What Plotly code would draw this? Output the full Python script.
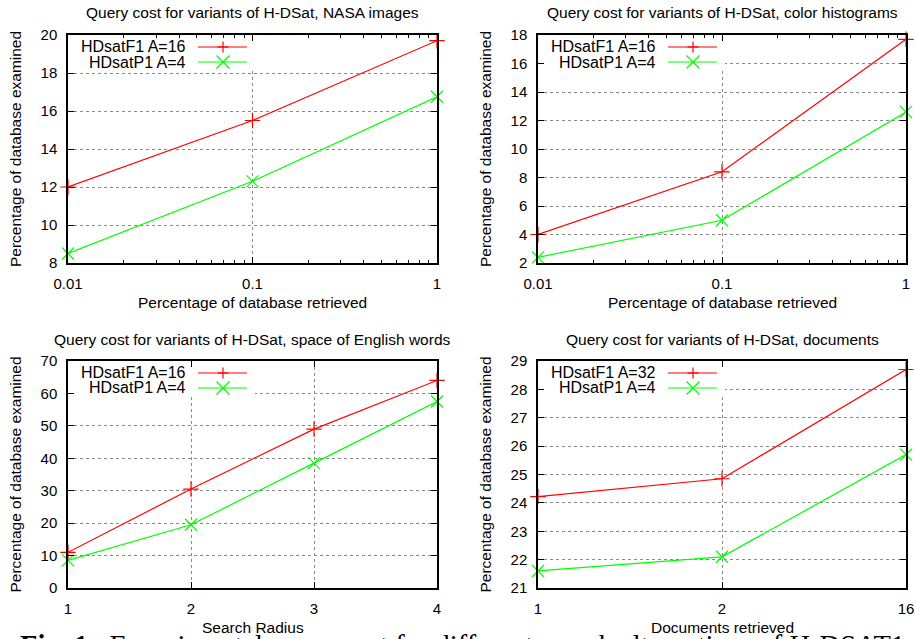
import plotly.graph_objects as go

W, H = 916, 639

# ---------------- data ----------------
nasa_x = [0.01, 0.1, 1]
nasa_f1 = [12.0, 15.5, 19.7]
nasa_p1 = [8.5, 12.3, 16.75]

hist_x = [0.01, 0.1, 1]
hist_f1 = [4.0, 8.4, 17.7]
hist_p1 = [2.4, 5.0, 12.6]

words_x = [1, 2, 3, 4]
words_f1 = [11.0, 30.5, 49.0, 64.0]
words_p1 = [8.5, 19.5, 38.5, 57.5]

docs_x = ["1", "2", "16"]
docs_f1 = [24.22, 24.85, 28.7]
docs_p1 = [21.6, 22.1, 25.7]

titles = [
    "Query cost for variants of H-DSat, NASA images",
    "Query cost for variants of H-DSat, color histograms",
    "Query cost for variants of H-DSat, space of English words",
    "Query cost for variants of H-DSat, documents",
]
xtitles = ["Percentage of database retrieved", "Percentage of database retrieved",
           "Search Radius", "Documents retrieved"]
ytitle = "Percentage of database examined"
legend_f1 = ["HDsatF1 A=16", "HDsatF1 A=16", "HDsatF1 A=16", "HDsatF1 A=32"]
legend_p1 = ["HDsatP1 A=4", "HDsatP1 A=4", "HDsatP1 A=4", "HDsatP1 A=4"]
caption = "<b>Fig. 1.</b>  Experimental query cost for different search alternatives of H-DSAT1"

RED = "#ff0000"
GREEN = "#00ff00"
FONT = "Liberation Sans, Arial, sans-serif"

# plot area pixel boxes (left, top, right, bottom)
boxes = [(68, 35, 437, 263), (538, 35, 906, 263), (68, 361, 437, 588), (538, 361, 906, 588)]
xtypes = ["log", "log", "linear", "category"]
xranges = [[-2, 0], [-2, 0], [1, 4], [0, 2]]
yranges = [[8, 20], [2, 18], [0, 70], [21, 29]]
ydticks = [2, 2, 10, 1]


def px2x(p):
    return p / W


def px2y(p):
    return (H - p) / H


def xdata(i, frac):
    lo, hi = xranges[i]
    v = lo + frac * (hi - lo)
    return 10 ** v if xtypes[i] == "log" else v


def ydata(i, frac):
    lo, hi = yranges[i]
    return lo + frac * (hi - lo)


fig = go.Figure()

series = [
    (nasa_x, nasa_f1, nasa_p1),
    (hist_x, hist_f1, hist_p1),
    (words_x, words_f1, words_p1),
    (docs_x, docs_f1, docs_p1),
]

for i, (xs, f1, p1) in enumerate(series):
    xa = "x" if i == 0 else f"x{i+1}"
    ya = "y" if i == 0 else f"y{i+1}"
    fig.add_trace(go.Scatter(x=xs, y=f1, xaxis=xa, yaxis=ya, mode="lines+markers",
                             line=dict(color=RED, width=1.2),
                             marker=dict(symbol="cross-thin-open", size=11,
                                         line=dict(color=RED, width=1.2)),
                             cliponaxis=False, showlegend=False))
    fig.add_trace(go.Scatter(x=xs, y=p1, xaxis=xa, yaxis=ya, mode="lines+markers",
                             line=dict(color=GREEN, width=1.2),
                             marker=dict(symbol="x-thin-open", size=12,
                                         line=dict(color=GREEN, width=1.2)),
                             cliponaxis=False, showlegend=False))

axis_common = dict(
    showline=True, linecolor="black", linewidth=1.5, mirror="ticks",
    ticks="inside", ticklen=6, tickcolor="black", tickwidth=1,
    showgrid=True, gridcolor="#8a8a8a", griddash="dot", gridwidth=1,
    zeroline=False, tickfont=dict(family=FONT, size=15, color="black"),
    fixedrange=True, automargin=False,
)

layout = dict(width=W, height=H, margin=dict(l=0, r=0, t=0, b=0, pad=0),
              paper_bgcolor="white", plot_bgcolor="white", showlegend=False,
              font=dict(family=FONT, color="black"))

for i, (l, t, r, b) in enumerate(boxes):
    xk = "xaxis" if i == 0 else f"xaxis{i+1}"
    yk = "yaxis" if i == 0 else f"yaxis{i+1}"
    ya = "y" if i == 0 else f"y{i+1}"
    xa = "x" if i == 0 else f"x{i+1}"
    xd = dict(axis_common, domain=[px2x(l), px2x(r)], anchor=ya, ticklabelstandoff=6,
              type=xtypes[i], range=xranges[i])
    if xtypes[i] == "log":
        xd.update(tickvals=[0.01, 0.1, 1], ticktext=["0.01", "0.1", "1"],
                  minor=dict(ticks="inside", ticklen=3, tickcolor="black", showgrid=False,
                             tickvals=[v * m for m in (0.01, 0.1) for v in range(2, 10)]))
    elif xtypes[i] == "linear":
        xd.update(dtick=1)
    else:
        xd.update(categoryorder="array", categoryarray=docs_x)
    yd = dict(axis_common, domain=[px2y(b), px2y(t)], anchor=xa, range=yranges[i],
              dtick=ydticks[i], ticklabelstandoff=6)
    layout[xk] = xd
    layout[yk] = yd

fig.update_layout(**layout)

# caption first (partly cut by the bottom edge, as in the source page)
annotations = [dict(text=caption, x=px2x(18), y=px2y(628), xref="paper", yref="paper",
                    xanchor="left", yanchor="top", showarrow=False,
                    font=dict(family="Liberation Serif, DejaVu Serif, serif", size=28.5, color="black"))]
shapes = []
for i, (l, t, r, b) in enumerate(boxes):
    xa = "x" if i == 0 else f"x{i+1}"
    ya = "y" if i == 0 else f"y{i+1}"
    cx = (l + r) / 2
    cy = (t + b) / 2
    annotations.append(dict(text=titles[i], x=px2x(cx), y=px2y(t - 22), xref="paper", yref="paper",
                            xanchor="center", yanchor="middle", showarrow=False,
                            font=dict(family=FONT, size=15.5, color="black")))
    annotations.append(dict(text=xtitles[i], x=px2x(cx), y=px2y(b + 39), xref="paper", yref="paper",
                            xanchor="center", yanchor="middle", showarrow=False,
                            font=dict(family=FONT, size=15.5, color="black")))
    annotations.append(dict(text=ytitle, x=px2x(l - 53), y=px2y(cy), xref="paper", yref="paper",
                            xanchor="center", yanchor="middle", showarrow=False, textangle=-90,
                            font=dict(family=FONT, size=15.5, color="black")))
    pw, ph = r - l, b - t
    # key background (hides the grid behind the key)
    shapes.append(dict(type="rect", xref=xa, yref=ya,
                       x0=xdata(i, 3 / pw), x1=xdata(i, 187 / pw),
                       y0=ydata(i, 1 - 35 / ph), y1=ydata(i, 1 - 2 / ph),
                       fillcolor="white", line=dict(width=0), layer="between"))
    dxr = f"{xa} domain"
    dyr = f"{ya} domain"
    rows = [(legend_f1[i], RED, 12), (legend_p1[i], GREEN, 27)]
    for k, (txt, col, off) in enumerate(rows):
        yy = 1 - off / ph
        annotations.append(dict(text=txt, x=120 / pw, y=yy, xref=dxr, yref=dyr,
                                xanchor="right", yanchor="middle", showarrow=False,
                                font=dict(family=FONT, size=16, color="black")))
        shapes.append(dict(type="line", xref=dxr, yref=dyr, x0=130 / pw, x1=179 / pw,
                           y0=yy, y1=yy, line=dict(color=col, width=1.2), layer="above"))
        mx = 155 / pw
        if k == 0:
            s = 5.5
            shapes.append(dict(type="line", xref=dxr, yref=dyr, x0=mx - s / pw, x1=mx + s / pw,
                               y0=yy, y1=yy, line=dict(color=col, width=1.2), layer="above"))
            shapes.append(dict(type="line", xref=dxr, yref=dyr, x0=mx, x1=mx,
                               y0=yy - s / ph, y1=yy + s / ph, line=dict(color=col, width=1.2),
                               layer="above"))
        else:
            s = 6.5
            shapes.append(dict(type="line", xref=dxr, yref=dyr, x0=mx - s / pw, x1=mx + s / pw,
                               y0=yy - s / ph, y1=yy + s / ph, line=dict(color=col, width=1.2),
                               layer="above"))
            shapes.append(dict(type="line", xref=dxr, yref=dyr, x0=mx - s / pw, x1=mx + s / pw,
                               y0=yy + s / ph, y1=yy - s / ph, line=dict(color=col, width=1.2),
                               layer="above"))

fig.update_layout(annotations=annotations, shapes=shapes)
fig.write_html("out.html", config={"displayModeBar": False},
               post_script="document.body.style.margin='0';document.body.style.overflow='hidden';")
